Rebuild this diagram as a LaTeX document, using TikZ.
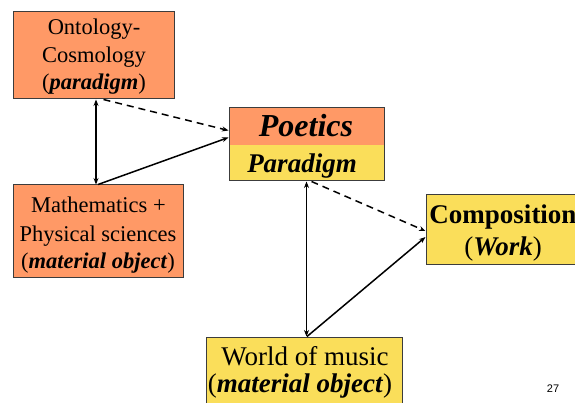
\documentclass[tikz,border=0pt]{standalone}
\usepackage{fontspec}
\setmainfont{Liberation Serif}
\newfontfamily\numfont{Liberation Sans}
\usetikzlibrary{arrows.meta}
\definecolor{boxorange}{RGB}{255,153,102}
\definecolor{boxyellow}{RGB}{250,222,90}
\definecolor{boxline}{RGB}{60,60,60}
\begin{document}
\begin{tikzpicture}[x=1pt,y=-1pt,
  box/.style={draw=boxline, line width=1pt, inner sep=0pt},
  half/.style={inner sep=0pt, minimum width=155pt},
  txt/.style={anchor=base, inner sep=0pt},
  sm/.style={font=\fontsize{22.5}{27}\selectfont},
  big/.style={font=\fontsize{27}{30}\selectfont},
  conn/.style={line width=1.5pt, -{Stealth[length=6.5pt,width=5pt]}},
  both/.style={line width=1.5pt, {Stealth[length=6.5pt,width=5pt]}-{Stealth[length=6.5pt,width=5pt]}},
  dashconn/.style={conn, dash pattern=on 7pt off 5pt}]
\useasboundingbox (0,0) rectangle (575,403);
\clip (0,0) rectangle (575,403);

% boxes
\node[box, fill=boxorange, minimum width=161pt, minimum height=87pt] (onto) at (93.5,55.5) {};
\node[box, fill=boxorange, minimum width=170pt, minimum height=92pt] (math) at (98,231) {};
\node[half, fill=boxorange, minimum height=37pt] (poettop) at (306.5,126.5) {};
\node[half, fill=boxyellow, minimum height=36pt] (poetbot) at (306.5,163) {};
\node[box, minimum width=155pt, minimum height=73pt] (poetics) at (306.5,144.5) {};
\node[box, fill=boxyellow, minimum width=154pt, minimum height=69pt] (comp) at (503,229.5) {};
\node[box, fill=boxyellow, minimum width=196pt, minimum height=75pt] (world) at (304,374.5) {};

% texts
\node[txt, sm] (o1) at (94,35) {Ontology-};
\node[txt, sm] (o2) at (94,63) {Cosmology};
\node[txt, sm] (o3) at (94,90) {(\textbf{\textit{paradigm}})};

\node[txt, sm] (m1) at (98.5,213) {Mathematics +};
\node[txt, sm] (m2) at (98,242) {Physical sciences};
\node[txt, sm] (m3) at (98,269) {(\textbf{\textit{material object}})};

\node[txt, font=\fontsize{32}{36}\selectfont\bfseries\itshape] (p1) at (306,137) {Poetics};
\node[txt, font=\fontsize{27}{30}\selectfont\bfseries\itshape] (p2) at (302,173) {Paradigm};

\node[txt, big] (c1) at (503,224) {\textbf{Composition}};
\node[txt, big] (c2) at (503,255) {(\textbf{\textit{Work}})};

\node[txt, big] (w1) at (305,365) {World of music};
\node[txt, big] (w2) at (300,392) {(\textbf{\textit{material object}})};

\node[txt, font=\fontsize{11}{13}\numfont] (pg) at (553,392) {27};

% connectors
\draw[both] ([xshift=-2pt]math.north) -- ([xshift=-2pt]math.north |- onto.south);
\draw[conn] (math.north) -- ([yshift=7pt]poetics.west);
\draw[dashconn] ([xshift=10pt]onto.south) -- ([yshift=14pt]poetics.west);
\draw[both] (poetics.south) -- (poetics.south |- world.north);
\draw[conn] ([xshift=3pt]world.north) -- ([yshift=-7.5pt]comp.west);
\draw[dashconn] ([xshift=5pt]poetics.south) -- ([yshift=-1.5pt]comp.west);
\end{tikzpicture}
\end{document}
